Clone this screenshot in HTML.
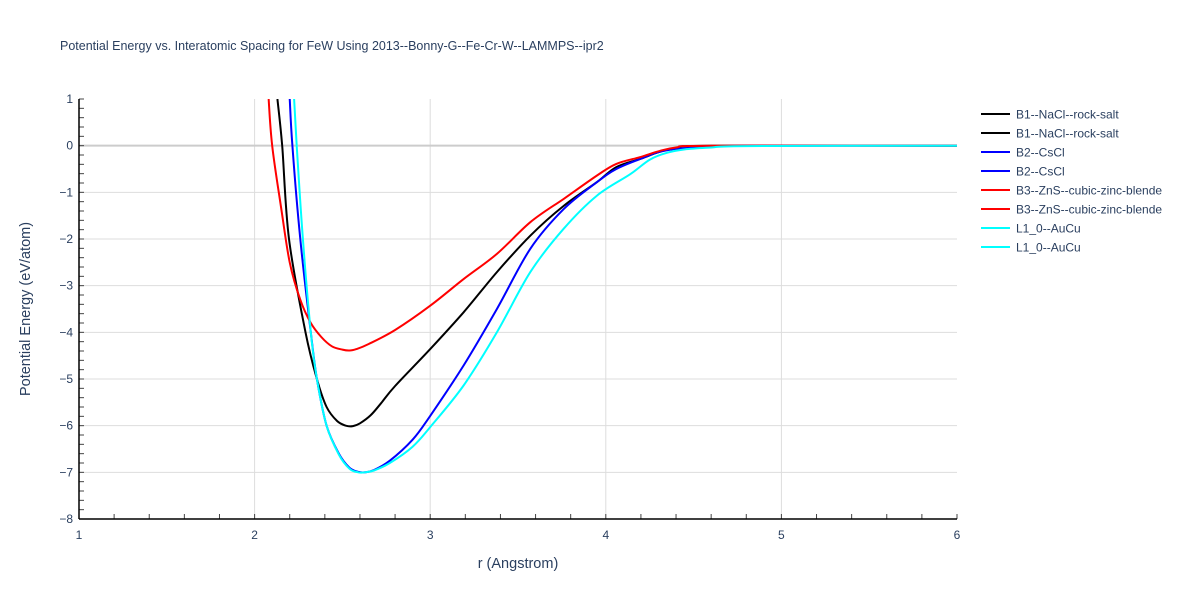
<!DOCTYPE html>
<html><head><meta charset="utf-8"><style>
body{margin:0;background:#fff;font-family:"Liberation Sans",Arial,sans-serif;}
svg text{font-family:"Liberation Sans",Arial,sans-serif;fill:#2a3f5f;}
</style></head><body>
<svg id="chart" width="1200" height="600" xmlns="http://www.w3.org/2000/svg">
<rect width="1200" height="600" fill="#fff"/>
<text x="60" y="50" font-size="12.5">Potential Energy vs. Interatomic Spacing for FeW Using 2013--Bonny-G--Fe-Cr-W--LAMMPS--ipr2</text>
<g id="grid"></g>
<defs><clipPath id="clip"><rect x="79" y="99" width="878" height="420"/></clipPath></defs>
<g id="series" clip-path="url(#clip)"></g>
<g id="axes"></g>
<g id="legend"></g>
<text x="518" y="568" font-size="14.5" text-anchor="middle">r (Angstrom)</text>
<text transform="translate(30,309) rotate(-90)" font-size="14.5" text-anchor="middle">Potential Energy (eV/atom)</text>
</svg>
<script>
const xTicks=[1,2,3,4,5,6];
const yTicks=[1,0,-1,-2,-3,-4,-5,-6,-7,-8];
const seriesNames=["B1--NaCl--rock-salt","B2--CsCl","B3--ZnS--cubic-zinc-blende","L1_0--AuCu"];
const b1R=[2.13,2.157,2.196,2.29,2.355,2.41,2.47,2.52,2.56,2.60,2.66,2.72,2.8,3.0,3.19,3.38,3.57,3.76,3.95,4.06,4.2,4.3,4.4,4.6,6];
const b1E=[1,0,-2,-4,-5,-5.6,-5.9,-6.0,-6.01,-5.95,-5.78,-5.52,-5.15,-4.36,-3.57,-2.71,-1.93,-1.29,-0.78,-0.46,-0.28,-0.14,-0.05,0,0];
const b2R=[2.2,2.215,2.26,2.32,2.355,2.41,2.48,2.54,2.59,2.63,2.68,2.77,2.9,3.0,3.19,3.38,3.57,3.76,3.95,4.06,4.2,4.3,4.4,4.6,4.8,6];
const b2E=[1,0,-2,-4,-5,-6,-6.6,-6.9,-6.99,-7.0,-6.95,-6.75,-6.3,-5.79,-4.71,-3.5,-2.21,-1.36,-0.78,-0.5,-0.28,-0.14,-0.07,-0.02,0,0];
const b3R=[2.08,2.10,2.15,2.2,2.26,2.32,2.38,2.44,2.5,2.54,2.58,2.65,2.8,3.0,3.19,3.38,3.57,3.76,3.95,4.06,4.2,4.3,4.4,4.6,6];
const b3E=[1,0,-1.3,-2.5,-3.3,-3.8,-4.1,-4.3,-4.37,-4.39,-4.36,-4.25,-3.95,-3.43,-2.86,-2.32,-1.64,-1.14,-0.64,-0.39,-0.24,-0.12,-0.04,0,0];
const l10R=[2.225,2.24,2.275,2.32,2.355,2.41,2.48,2.54,2.59,2.63,2.68,2.77,2.9,3.0,3.19,3.38,3.57,3.76,3.95,4.14,4.25,4.35,4.45,4.6,4.8,6];
const l10E=[1,0,-2,-4,-5,-6,-6.62,-6.92,-7.0,-7.0,-6.96,-6.8,-6.45,-6.03,-5.14,-4.0,-2.71,-1.78,-1.07,-0.61,-0.3,-0.15,-0.08,-0.04,-0.01,0];
const X0=79,X1=957,Y0=519,Y1=99;
const xs=v=>X0+(v-1)/(6-1)*(X1-X0);
const ys=v=>Y0-(v+8)/(1+8)*(Y0-Y1);
const NS="http://www.w3.org/2000/svg";
function mk(tag,attrs,parent){const e=document.createElementNS(NS,tag);for(const k in attrs)e.setAttribute(k,attrs[k]);parent.appendChild(e);return e;}
const grid=document.getElementById('grid'),axes=document.getElementById('axes'),ser=document.getElementById('series'),leg=document.getElementById('legend');
xTicks.forEach(t=>{
 if(t>1&&t<6){const l=mk('line',{x1:xs(t),x2:xs(t),y1:Y1,y2:Y0,stroke:'#ddd','stroke-width':1},grid);
 
 }
 const tx=mk('text',{x:xs(t),y:Y0+20,'font-size':12,'text-anchor':'middle'},axes);tx.textContent=t;
 
 
});
yTicks.forEach(t=>{
 if(t<1&&t>-8){const l=mk('line',{x1:X0,x2:X1,y1:ys(t),y2:ys(t),stroke:t===0?'#ccc':'#ddd','stroke-width':t===0?2:1},grid);
 
 }
 const tx=mk('text',{x:X0-6,y:ys(t)+4,'font-size':12,'text-anchor':'end'},axes);tx.textContent=(t<0?'\u2212'+(-t):t);
 
 
});
for(let v=1;v<=6.001;v+=0.2){mk('line',{x1:xs(v),x2:xs(v),y1:Y0,y2:Y0-5,stroke:'#444'},axes);}
for(let v=-8;v<=1.001;v+=0.2){mk('line',{x1:X0,x2:X0+5,y1:ys(v),y2:ys(v),stroke:'#444'},axes);}
const xa=mk('line',{x1:X0,x2:X1,y1:Y0,y2:Y0,stroke:'#000','stroke-width':1.5},axes);


const ya=mk('line',{x1:X0,x2:X0,y1:Y1,y2:Y0,stroke:'#000','stroke-width':1.5},axes);


function smooth(P){let d='M'+P[0][0]+','+P[0][1];for(let i=0;i<P.length-1;i++){const p0=P[Math.max(0,i-1)],p1=P[i],p2=P[i+1],p3=P[Math.min(P.length-1,i+2)];const c1=[p1[0]+(p2[0]-p0[0])/6,p1[1]+(p2[1]-p0[1])/6],c2=[p2[0]-(p3[0]-p1[0])/6,p2[1]-(p3[1]-p1[1])/6];d+=' C'+c1[0].toFixed(1)+','+c1[1].toFixed(1)+' '+c2[0].toFixed(1)+','+c2[1].toFixed(1)+' '+p2[0].toFixed(1)+','+p2[1].toFixed(1);}return d;}
const data=[[b1R,b1E,'#000'],[b2R,b2E,'#0000ff'],[b3R,b3E,'#ff0000'],[l10R,l10E,'#00ffff']];
data.forEach((d,i)=>{
 const P=d[0].map((r,j)=>[xs(r),ys(d[1][j])]);
 const p=mk('path',{d:smooth(P),fill:'none',stroke:d[2],'stroke-width':2,'stroke-linejoin':'round'},ser);
 
 
 for(let k=0;k<2;k++){
  const y=114+(i*2+k)*19;
  const g=mk('g',{},leg);
  
  
  mk('line',{x1:981,x2:1010,y1:y,y2:y,stroke:d[2],'stroke-width':2},g);
  const t=mk('text',{x:1016,y:y+4.5,'font-size':12},g);t.textContent=seriesNames[i];
 }
});
</script>
</body></html>
